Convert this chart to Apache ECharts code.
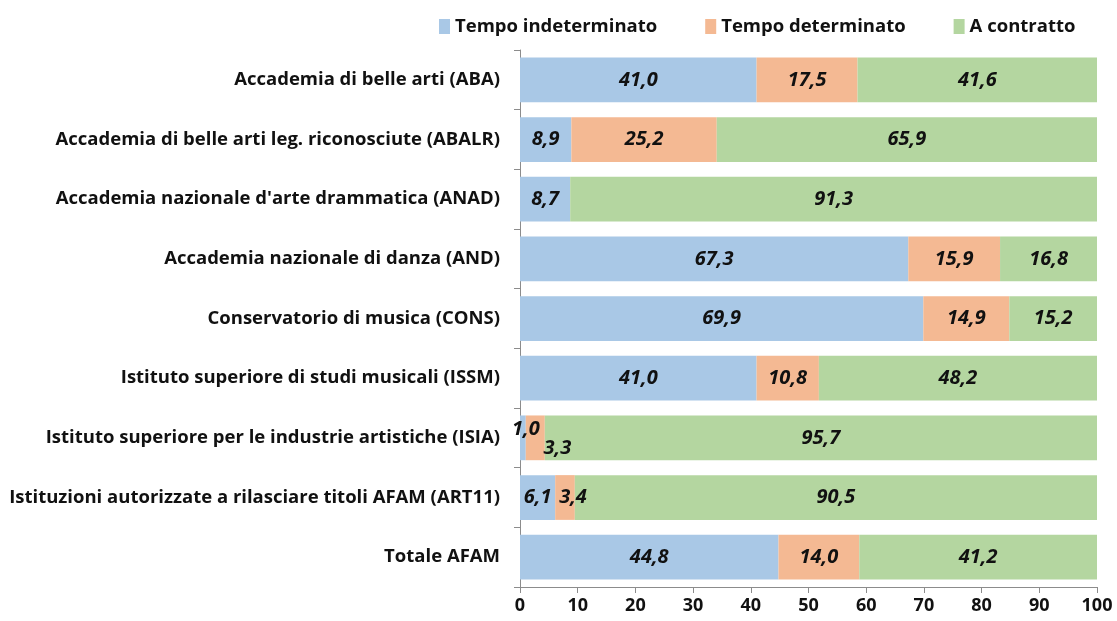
<!DOCTYPE html>
<html><head><meta charset="utf-8">
<script src="https://cdn.jsdelivr.net/npm/echarts@6/dist/echarts.min.js"></script>
<style>html,body{margin:0;padding:0;background:#fff}#c{width:1117px;height:621px}</style>
</head><body><div id="c"></div>
<script>
const categories = [
  "Accademia di belle arti (ABA)",
  "Accademia di belle arti leg. riconosciute (ABALR)",
  "Accademia nazionale d'arte drammatica (ANAD)",
  "Accademia nazionale di danza (AND)",
  "Conservatorio di musica (CONS)",
  "Istituto superiore di studi musicali (ISSM)",
  "Istituto superiore per le industrie artistiche (ISIA)",
  "Istituzioni autorizzate a rilasciare titoli AFAM (ART11)",
  "Totale AFAM"
];
const seriesNames = ["Tempo indeterminato", "Tempo determinato", "A contratto"];
const indeterminato = [41.0, 8.9, 8.7, 67.3, 69.9, 41.0, 1.0, 6.1, 44.8];
const determinato   = [17.5, 25.2, 0, 15.9, 14.9, 10.8, 3.3, 3.4, 14.0];
const contratto     = [41.6, 65.9, 91.3, 16.8, 15.2, 48.2, 95.7, 90.5, 41.2];
const xTicks = [0,10,20,30,40,50,60,70,80,90,100];

const colors = ['#a9c8e6', '#f4b993', '#b4d6a0'];
const FONT = 'Open Sans';
const fmt = v => v.toFixed(1).replace('.', ',');
function items(arr, si) {
  return arr.map((v, i) => {
    const it = { value: v };
    if (v === 0) it.label = { show: false };
    if (categories[i].indexOf('(ISIA)') >= 0) {
      if (si === 0) it.label = { offset: [3, -9] };
      if (si === 1) it.label = { offset: [22, 10] };
    }
    if (categories[i].indexOf('(ART11)') >= 0) {
      if (si === 1) it.label = { offset: [8, 0] };
    }
    return it;
  });
}
const labelStyle = {
  show: true, position: 'inside', color: '#111', fontFamily: FONT,
  fontSize: 20, fontWeight: 'bold', fontStyle: 'italic',
  formatter: p => fmt(p.value)
};
const data = [indeterminato, determinato, contratto];
const chart = echarts.init(document.getElementById('c'), null, { renderer: 'canvas' });
chart.setOption({
  animation: false,
  textStyle: { fontFamily: FONT },
  legend: {
    top: 12, left: 434, itemGap: 48, itemWidth: 11, itemHeight: 15,
    icon: 'rect',
    textStyle: { fontFamily: FONT, fontSize: 18.5, fontWeight: 'bold', color: '#111' },
    data: seriesNames
  },
  grid: { left: 520, right: 20, top: 50, bottom: 34, containLabel: false },
  xAxis: {
    type: 'value', min: 0, max: 100, interval: 10,
    axisLine: { show: true, lineStyle: { color: '#8c8c8c', width: 1 } },
    axisTick: { show: true, length: 6, lineStyle: { color: '#8c8c8c' } },
    splitLine: { show: false },
    axisLabel: { fontFamily: FONT, fontSize: 18, fontWeight: 'bold', color: '#111', margin: 10,
      formatter: v => xTicks.indexOf(v) >= 0 ? String(v) : '' }
  },
  yAxis: {
    type: 'category', data: categories, inverse: true,
    axisLine: { show: true, lineStyle: { color: '#8c8c8c', width: 1 } },
    axisTick: { show: true, length: 6, lineStyle: { color: '#8c8c8c' } },
    axisLabel: { fontFamily: FONT, fontSize: 18.5, fontWeight: 'bold', color: '#111', margin: 20 }
  },
  series: seriesNames.map((n, si) => ({
    name: n, type: 'bar', stack: 'tot', barCategoryGap: '25%',
    itemStyle: { color: colors[si] },
    label: labelStyle,
    data: items(data[si], si)
  }))
});
</script></body></html>
